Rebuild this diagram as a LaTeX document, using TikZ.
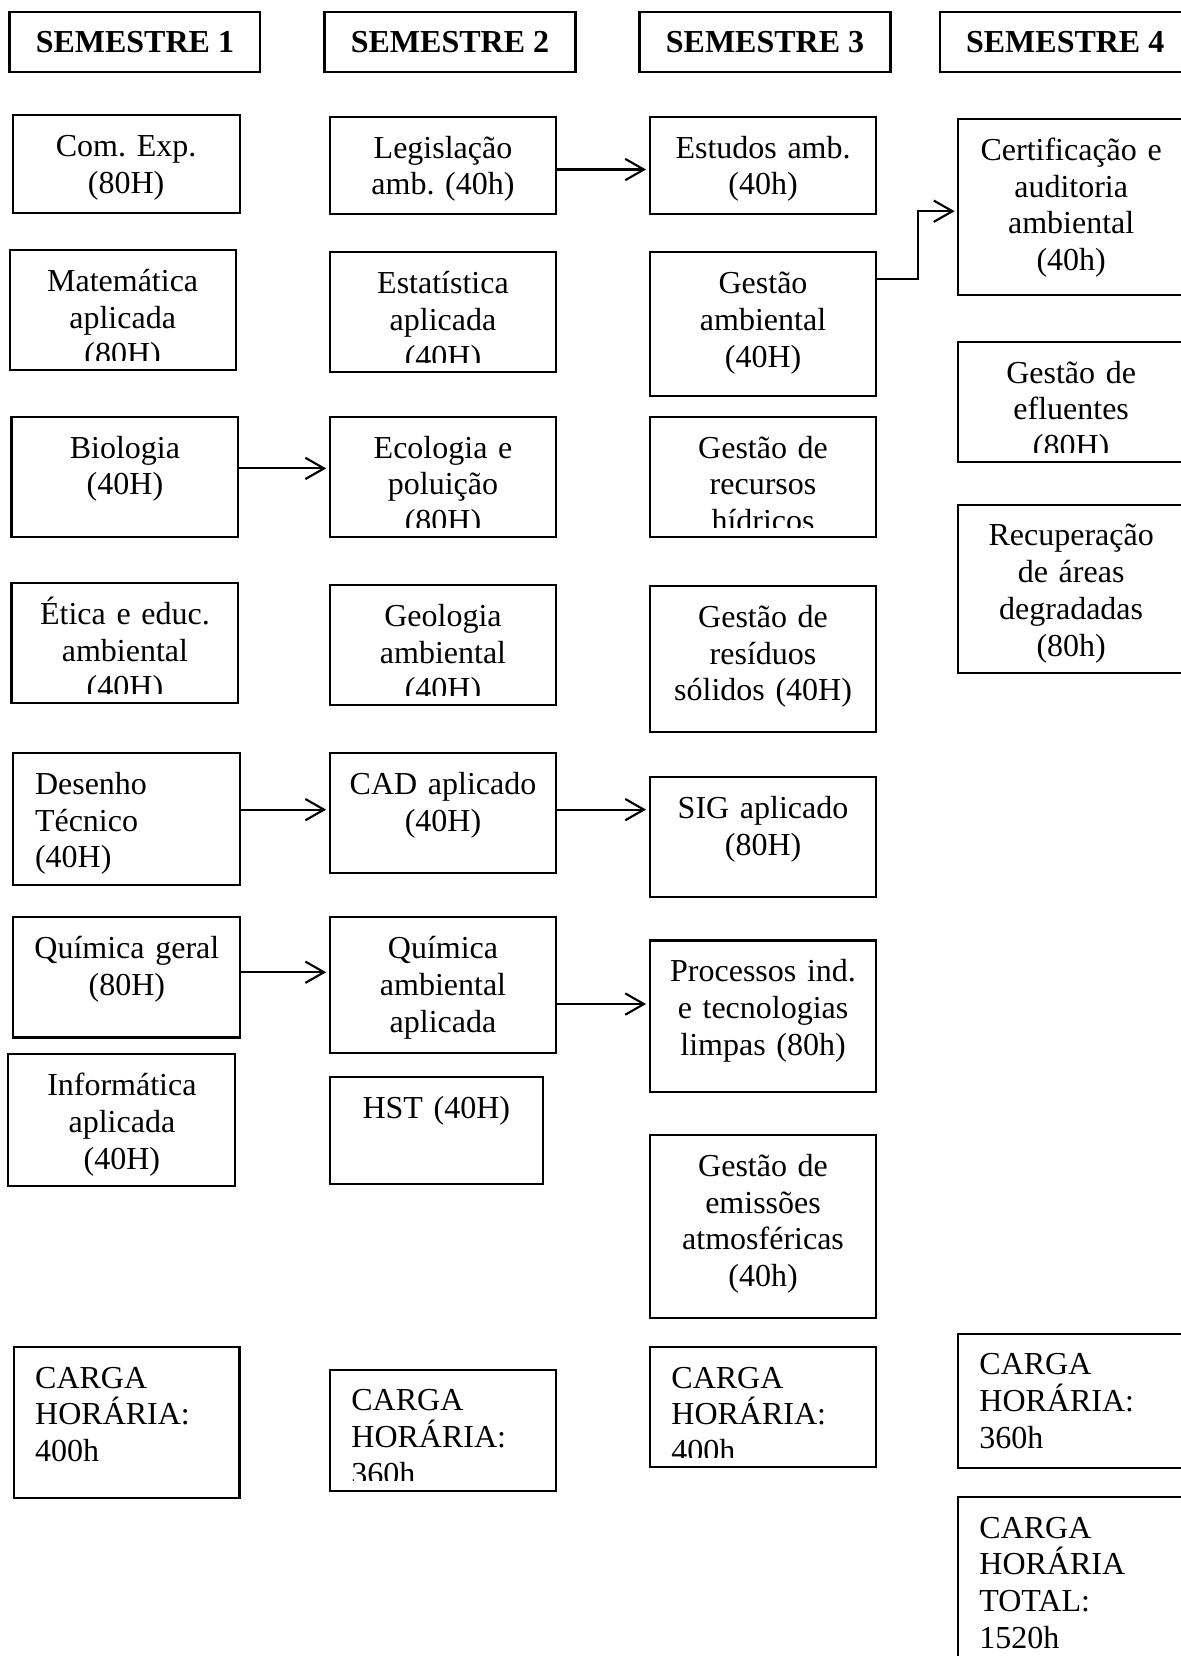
\documentclass[tikz,border=0pt]{standalone}
\usepackage{fontspec}
\setmainfont{Liberation Serif}
\usetikzlibrary{arrows.meta,fit}
\frenchspacing

\tikzset{
  head/.style={draw=black, line width=0.8pt, inner sep=0pt, minimum width=94.1pt, minimum height=22.5pt,
    font=\fontsize{12}{13.8}\selectfont\bfseries},
  box/.style={draw=black, line width=0.8pt, inner sep=0pt},
  ctext/.style 2 args={path picture={
      \clip ([shift={(0.6pt,3.75pt)}]path picture bounding box.south west)
        rectangle ([shift={(-0.6pt,-0.6pt)}]path picture bounding box.north east);
      \node[draw=none, fill=none, inner sep=0pt, text width=80pt, align=center, anchor=base] (#1)
        at ([yshift=-15.5pt]path picture bounding box.north) {#2};}},
  ltext/.style 2 args={path picture={
      \clip ([shift={(0.6pt,3.75pt)}]path picture bounding box.south west)
        rectangle ([shift={(-0.6pt,-0.6pt)}]path picture bounding box.north east);
      \node[draw=none, fill=none, inner sep=0pt, text width=75pt, align=left, anchor=base west] (#1)
        at ([shift={(7.7pt,-15.3pt)}]path picture bounding box.north west) {#2};}},
  arr/.style={-{Straight Barb[length=7pt,width=8pt]}, line width=0.8pt, shorten >=1pt},
}

\begin{document}
\begin{tikzpicture}[x=0.375pt, y=-0.375pt, font=\fontsize{12}{13.8}\selectfont]
\path[use as bounding box, fill=white] (0,0) rectangle (1181,1656);

\node[head] (s1) at (134.9,41.8) {SEMESTRE 1};
\node[head] (s2) at (450,41.8) {SEMESTRE 2};
\node[head] (s3) at (765,41.8) {SEMESTRE 3};
\node[head] (s4) at (1065.2,41.8) {SEMESTRE 4};

\node[box, fit={(12.6,115.4) (239.6,213.2)}, ctext={com-t}{Com. Exp.\\(80H)}] (com) {};
\node[box, fit={(9.6,250) (235.7,370.4)}, ctext={mat-t}{Matemática\\aplicada\\(80H)}] (mat) {};
\node[box, fit={(11.5,416.8) (238.4,537.1)}, ctext={bio-t}{Biologia\\(40H)}] (bio) {};
\node[box, fit={(11.5,582.9) (238.4,703.3)}, ctext={eti-t}{Ética e educ.\\ambiental\\(40H)}] (eti) {};
\node[box, fit={(13.4,753.4) (240.3,885.1)}, ltext={des-t}{Desenho\\Técnico\\(40H)}] (des) {};
\node[box, fit={(13.4,917.1) (240.3,1037.5)}, ctext={qg-t}{Química geral\\(80H)}] (qg) {};
\node[box, fit={(8.4,1054.3) (235.4,1186)}, ctext={inf-t}{Informática\\aplicada\\(40H)}] (inf) {};
\node[box, fit={(13.6,1347.3) (239.5,1498)}, ltext={c1-t}{CARGA\\HORÁRIA:\\400h}] (c1) {};

\node[box, fit={(329.9,116.8) (556.1,214.3)}, ctext={leg-t}{Legislação\\amb. (40h)}] (leg) {};
\node[box, fit={(329.9,252.1) (556.1,372.1)}, ctext={est-t}{Estatística\\aplicada\\(40H)}] (est) {};
\node[box, fit={(329.9,416.8) (556.1,537.1)}, ctext={eco-t}{Ecologia e\\poluição\\(80H)}] (eco) {};
\node[box, fit={(329.9,585) (556.1,705.4)}, ctext={geo-t}{Geologia\\ambiental\\(40H)}] (geo) {};
\node[box, fit={(329.9,753.4) (556.1,873.3)}, ctext={cad-t}{CAD aplicado\\(40H)}] (cad) {};
\node[box, fit={(329.9,917.1) (556.1,1052.6)}, ctext={qa-t}{Química\\ambiental\\aplicada}] (qa) {};
\node[box, fit={(330,1077) (542.7,1184)}, ctext={hst-t}{HST (40H)}] (hst) {};
\node[box, fit={(329.8,1370) (555.7,1490.7)}, ltext={c2-t}{CARGA\\HORÁRIA:\\360h}] (c2) {};

\node[box, fit={(649.8,116.8) (876.3,214.3)}, ctext={ea-t}{Estudos amb.\\(40h)}] (ea) {};
\node[box, fit={(649.8,252.1) (876.3,396.4)}, ctext={ga-t}{Gestão\\ambiental\\(40H)}] (ga) {};
\node[box, fit={(649.8,416.8) (876.3,537.1)}, ctext={grh-t}{Gestão de\\recursos\\hídricos}] (grh) {};
\node[box, fit={(649.8,585.9) (876.3,732.3)}, ctext={grs-t}{Gestão de\\resíduos\\sólidos (40H)}] (grs) {};
\node[box, fit={(649.8,777.2) (876.3,897.1)}, ctext={sig-t}{SIG aplicado\\(80H)}] (sig) {};
\node[box, fit={(649.8,940.5) (876.3,1092)}, ctext={proc-t}{Processos ind.\\e tecnologias\\limpas (80h)}] (proc) {};
\node[box, fit={(649.8,1134.9) (876.3,1317.6)}, ctext={gem-t}{Gestão de\\emissões\\atmosféricas\\(40h)}] (gem) {};
\node[box, fit={(649.8,1347.3) (875.8,1467.3)}, ltext={c3-t}{CARGA\\HORÁRIA:\\400h}] (c3) {};

\node[box, fit={(958.3,118.9) (1184,295)}, ctext={cert-t}{Certificação e\\auditoria\\ambiental\\(40h)}] (cert) {};
\node[box, fit={(958.3,341.8) (1184,462.1)}, ctext={gef-t}{Gestão de\\efluentes\\(80H)}] (gef) {};
\node[box, fit={(958.3,504.6) (1184,672.7)}, ctext={rad-t}{Recuperação\\de áreas\\degradadas\\(80h)}] (rad) {};
\node[box, fit={(957.8,1334) (1184,1467.7)}, ltext={c4-t}{CARGA\\HORÁRIA:\\360h}] (c4) {};
\node[box, fit={(957.8,1497.3) (1184,1670)}, ltext={tot-t}{CARGA\\HORÁRIA\\TOTAL:\\1520h}] (tot) {};

\draw[arr, transform canvas={yshift=-1.5pt}] (leg.east) -- (leg.east -| ea.west);
\draw[arr] ([yshift=17.1pt]ga.east) -- ++(41,0) |- ([yshift=-1.6pt]cert.west);
\draw[arr, transform canvas={yshift=3.2pt}] (bio.east) -- (bio.east -| eco.west);
\draw[arr, transform canvas={yshift=3.6pt}] (des.east) -- (des.east -| cad.west);
\draw[arr, transform canvas={yshift=1.4pt}] (cad.east) -- (cad.east -| sig.west);
\draw[arr, transform canvas={yshift=1.9pt}] (qg.east) -- (qg.east -| qa.west);
\draw[arr, transform canvas={yshift=-7.2pt}] (qa.east) -- (qa.east -| proc.west);
\end{tikzpicture}
\end{document}
